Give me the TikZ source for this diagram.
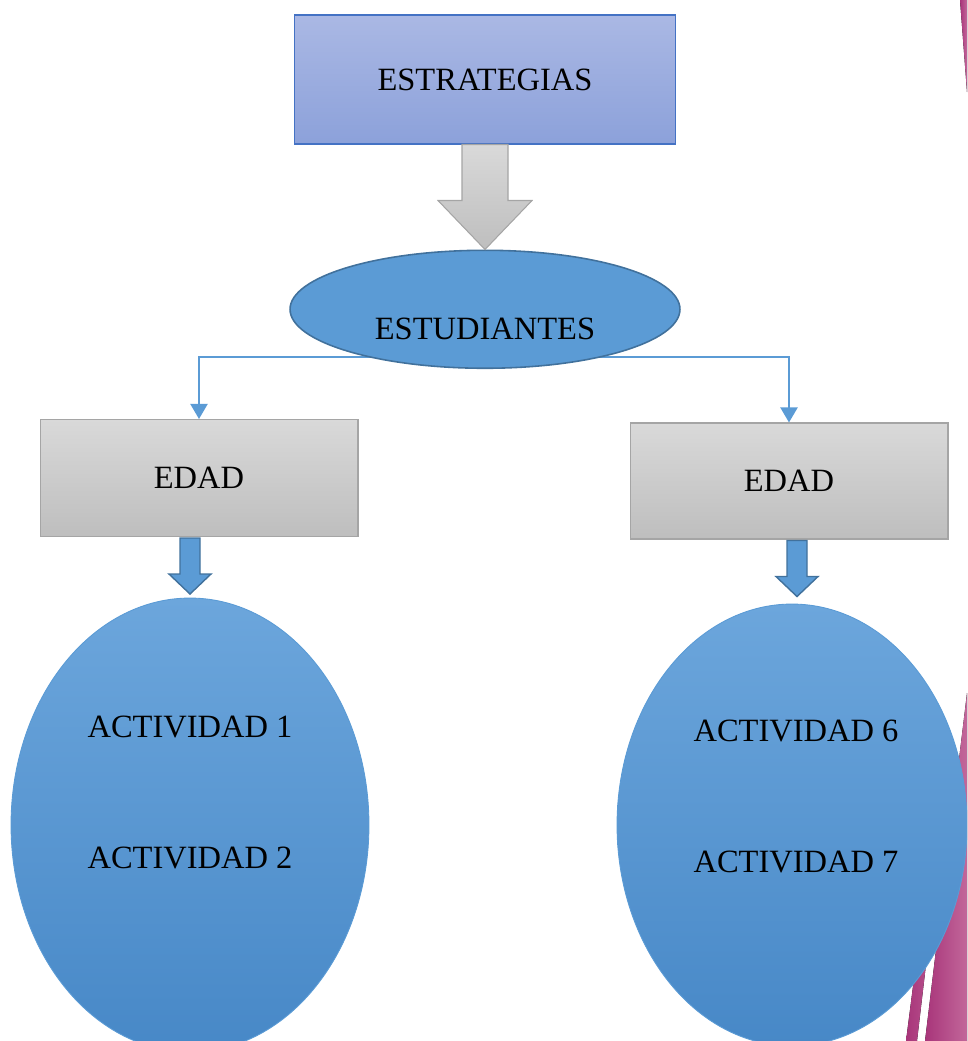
\documentclass[tikz,border=0pt]{standalone}
\usepackage{fontspec}
\setmainfont{Liberation Serif}
\usetikzlibrary{shapes.geometric,positioning,arrows.meta,calc}

\definecolor{stratTop}{HTML}{AAB8E4}
\definecolor{stratBot}{HTML}{8CA1DA}
\definecolor{stratLine}{HTML}{4472C4}
\definecolor{greyTop}{HTML}{D9D9D9}
\definecolor{greyBot}{HTML}{BEBEBE}
\definecolor{greyLine}{HTML}{A5A5A5}
\definecolor{accBlue}{HTML}{5B9BD5}
\definecolor{accDark}{HTML}{41719C}
\definecolor{actTop}{HTML}{6CA6DC}
\definecolor{actBot}{HTML}{4788C7}
\definecolor{stripeA}{HTML}{A8357A}
\definecolor{stripeB}{HTML}{C2679A}

\begin{document}
\begin{tikzpicture}[x=0.02cm,y=-0.02cm,align=center,font=\fontsize{18.5}{22}\selectfont,
	greybox/.style={shape=rectangle,top color=greyTop,bottom color=greyBot,draw=greyLine,line width=0.6pt,minimum width=6.36cm,minimum height=2.34cm},
	actoval/.style={shape=ellipse,top color=actTop,bottom color=actBot,draw=accBlue,line width=0.5pt,inner sep=0pt},
	link/.style={draw=accBlue,line width=1.2pt,-{Triangle[width=0.34cm,length=0.3cm]}},
	bluearrow/.style={fill=accBlue,draw=accDark,line width=0.8pt,line join=miter},
	stripe/.style={left color=stripeA,right color=stripeB,draw=none}]
	\useasboundingbox (0,0) rectangle (967,1041);
	\clip (0,0) rectangle (967,1041);
	
	%% Background stripes
	\fill[stripe] (960,0) -- (967,0) -- (967,92) -- cycle;
	\fill[stripe] (906,1041) -- (917,1041) -- (950,760) -- (942,760) -- cycle;
	\fill[stripe] (925,1041) -- (967,693) -- (967,1041) -- cycle;
	
	%% Top
	\node (strat) [shape=rectangle,top color=stratTop,bottom color=stratBot,draw=stratLine,line width=0.6pt,minimum width=7.64cm,minimum height=2.58cm] at (485,79.5)
	{ESTRATEGIAS};
	
	%% Ages
	\node (edad1) [greybox] at (199,478) {EDAD};
	\node (edad2) [greybox,minimum height=2.32cm] at (789,481) {EDAD};
	
	\coordinate (hub) at (486,357);
	\draw[link] (hub) -| (edad1.north);
	\draw[link] (hub) -| (edad2.north);
	
	%% Students
	\node (estu) [below=2.1cm of strat,shape=ellipse,fill=accBlue,draw=accDark,line width=0.9pt,minimum width=7.8cm,minimum height=2.36cm,inner sep=0pt] {};
	\node (estutxt) at ($(estu)+(0,20)$) {ESTUDIANTES};
	
	\draw[top color=greyTop,bottom color=greyBot,draw=greyLine,line width=0.6pt] ($(strat.south)+(-23,0)$) -- ($(strat.south)+(23,0)$) -- ++(0,56) -- ++(24,0) -- (estu.north) -- ($(strat.south)+(-47,56)$) -- ++(24,0) -- cycle;
	
	%% Activities
	\node (act1) [actoval,minimum width=7.16cm,minimum height=9.08cm] at (190,825) {};
	\node (act6) [actoval,minimum width=7.0cm,minimum height=8.84cm] at (792,825) {};
	
	\node (act1a) at ($(act1)+(0,-98)$) {ACTIVIDAD 1};
	\node (act1b) at ($(act1)+(0,33)$) {ACTIVIDAD 2};
	\node (act6a) at ($(act6)+(4,-94)$) {ACTIVIDAD 6};
	\node (act6b) at ($(act6)+(4,37)$) {ACTIVIDAD 7};
	
	\draw[bluearrow] ($(act1 |- edad1.south)+(-10,1)$) -- ++(20,0) -- ++(0,36) -- ++(11,0) -- ++(-21,20) -- ++(-21,-20) -- ++(11,0) -- cycle;
	\draw[bluearrow] ($(edad2.south)+(-2,1)$) -- ++(20,0) -- ++(0,36) -- ++(11,0) -- ++(-21,20) -- ++(-21,-20) -- ++(11,0) -- cycle;
\end{tikzpicture}
\end{document}
